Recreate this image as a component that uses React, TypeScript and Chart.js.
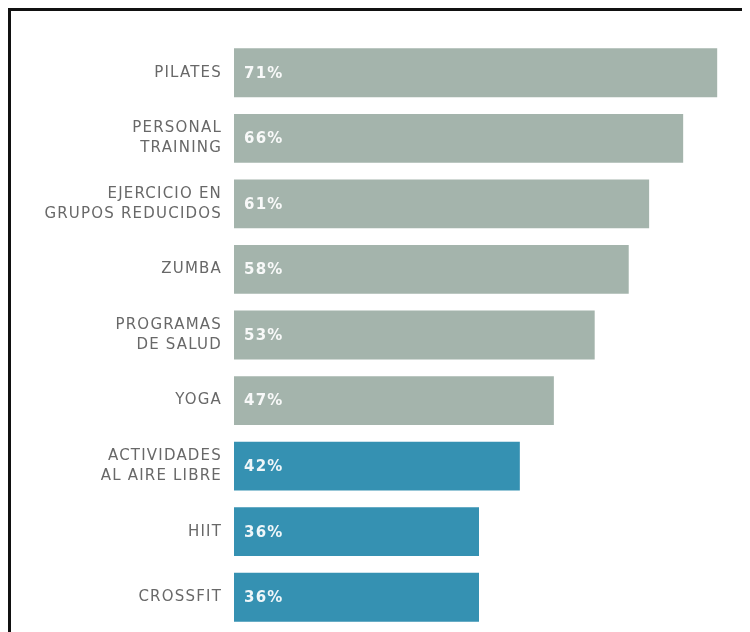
import React, { useEffect, useRef } from "react";
import { Chart, registerables } from "chart.js";

Chart.register(...registerables);

const categories: string[][] = [
  ["PILATES"],
  ["PERSONAL", "TRAINING"],
  ["EJERCICIO EN", "GRUPOS REDUCIDOS"],
  ["ZUMBA"],
  ["PROGRAMAS", "DE SALUD"],
  ["YOGA"],
  ["ACTIVIDADES", "AL AIRE LIBRE"],
  ["HIIT"],
  ["CROSSFIT"],
];
const values: number[] = [71, 66, 61, 58, 53, 47, 42, 36, 36];
const highlighted: boolean[] = [false, false, false, false, false, false, true, true, true];

const GREY = "#a4b4ac";
const TEAL = "#3591b2";

const spacing = {
  id: "spacing",
  beforeDraw(chart: any) {
    chart.ctx.letterSpacing = "1.2px";
  },
};

const valueLabels = {
  id: "valueLabels",
  afterDatasetsDraw(chart: any) {
    const ctx = chart.ctx;
    const meta = chart.getDatasetMeta(0);
    ctx.save();
    ctx.letterSpacing = "1.2px";
    ctx.fillStyle = "rgba(255,255,255,0.92)";
    ctx.font = "bold 15px 'DejaVu Sans', sans-serif";
    ctx.textAlign = "left";
    ctx.textBaseline = "middle";
    meta.data.forEach((bar: any, i: number) => {
      ctx.fillText(values[i] + "%", bar.base + 10, bar.y + 1);
    });
    ctx.restore();
  },
};

export default function App() {
  const ref = useRef<HTMLCanvasElement | null>(null);
  useEffect(() => {
    document.documentElement.style.overflow = "hidden";
    document.body.style.overflow = "hidden";
    if (!ref.current) return;
    const chart = new Chart(ref.current, {
      type: "bar",
      data: {
        labels: categories,
        datasets: [
          {
            data: values,
            backgroundColor: highlighted.map((h) => (h ? TEAL : GREY)),
            borderWidth: 0,
            categoryPercentage: 1,
            barPercentage: 0.745,
          },
        ],
      },
      options: {
        indexAxis: "y",
        animation: false,
        responsive: false,
        maintainAspectRatio: false,
        layout: { padding: { top: 29, bottom: 2, left: 0, right: 18 } },
        plugins: {
          legend: { display: false },
          tooltip: { enabled: false },
        },
        scales: {
          x: {
            min: 0,
            max: 72,
            display: false,
            grid: { display: false },
          },
          y: {
            grid: { display: false },
            border: { display: false },
            afterFit: (scale: any) => {
              scale.width = 223;
              scale.paddingTop = 0;
              scale.paddingBottom = 0;
            },
            ticks: {
              color: "#686868",
              padding: 4,
              font: { family: "'DejaVu Sans', sans-serif", size: 15, weight: "normal", lineHeight: 1.33 },
            },
          },
        },
      },
      plugins: [spacing, valueLabels],
    });
    return () => chart.destroy();
  }, []);
  return (
    <div
      style={{
        borderTop: "3px solid #111",
        borderLeft: "3px solid #111",
        width: 731,
        height: 621,
        background: "#fff",
      }}
    >
      <canvas ref={ref} width={731} height={621} style={{ display: "block" }} />
    </div>
  );
}
